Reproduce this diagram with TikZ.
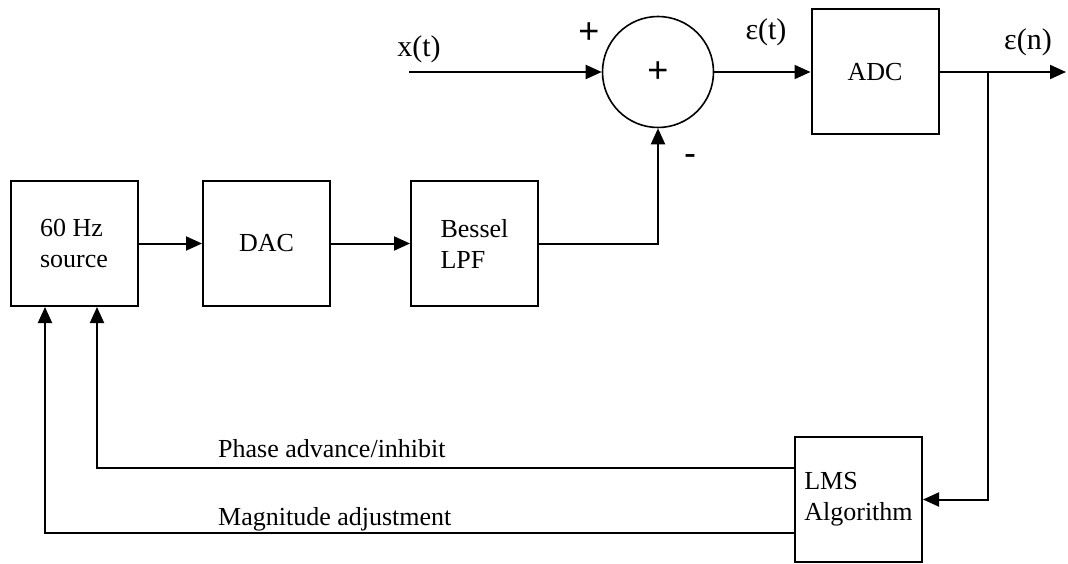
\documentclass[tikz,border=0pt]{standalone}
\usepackage{fontspec}
\setmainfont{Liberation Serif}
\newfontfamily\arialf{Liberation Sans}
\usetikzlibrary{arrows.meta}
\begin{document}
\begin{tikzpicture}[x=1pt,y=-1pt,
  blk/.style={draw,line width=2pt,minimum width=127pt,minimum height=125pt,inner sep=0pt,align=left,font=\fontsize{26}{31}\selectfont},
  con/.style={line width=2pt},
  arr/.style={con,-{Triangle[length=16pt,width=14pt]}},
  lbl/.style={inner sep=0pt,font=\fontsize{26}{31}\selectfont},
  sig/.style={inner sep=0pt,font=\fontsize{30}{30}\selectfont},
  sgn/.style={inner sep=0pt,font=\arialf\fontsize{36}{36}\selectfont}]
\useasboundingbox (0,0) rectangle (1068,564);
\node[blk] (src) at (74,243.5) {60 Hz\\source};
\node[blk] (dac) at (266.5,243.5) {DAC};
\node[blk] (lpf) at (474.5,243.5) {Bessel\\LPF};
\node[draw,circle,line width=1.6pt,minimum size=111pt,inner sep=0pt,font=\arialf\fontsize{36}{36}\selectfont] (sum) at (658,72) {+};
\node[blk] (adc) at (875,72) {ADC};
\node[blk] (lms) at (858.5,499.5) {LMS\\Algorithm};
\coordinate (xin) at (409,72);
\coordinate (out) at (1066,72);
\coordinate (br) at (988,72);
\coordinate (phy) at (0,468);
\coordinate (mgy) at (0,533);
\coordinate (phx) at (97,0);
\coordinate (mgx) at (45,0);
\draw[arr] (xin) -- (sum.west);
\draw[arr] (sum.east) -- (adc.west);
\draw[arr] (adc.east) -- (out);
\draw[arr] (br) |- (lms.east);
\draw[arr] (src.east) -- (dac.west);
\draw[arr] (dac.east) -- (lpf.west);
\draw[arr] (lpf.east) -| (sum.south);
\draw[arr] (lms.west |- phy) -| (src.south -| phx);
\draw[arr] (lms.west |- mgy) -| (src.south -| mgx);
\node[lbl,anchor=base west] (phlab) at (218,457) {Phase advance/inhibit};
\node[lbl,anchor=base west] (mglab) at (218,525) {Magnitude adjustment};
\node[sig] (xl) at (419,49.5) {x(t)};
\node[sig] (et) at (766,32) {ε(t)};
\node[sig] (en) at (1028,42) {ε(n)};
\node[sgn] (pl) at (589,33) {+};
\node[sgn] (mn) at (690,160) {-};
\end{tikzpicture}
\end{document}
